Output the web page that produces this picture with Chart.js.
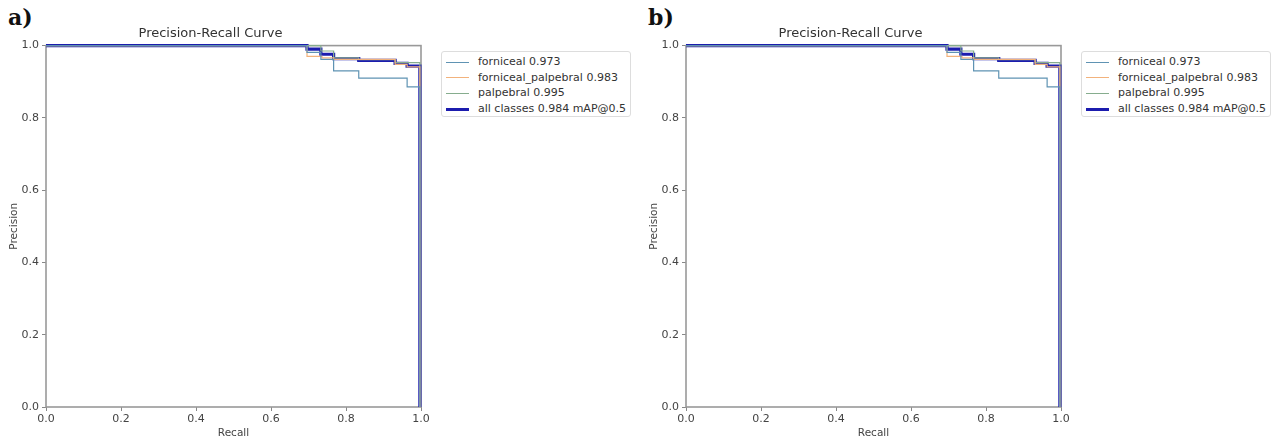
<!DOCTYPE html>
<html>
<head>
<meta charset="utf-8">
<script src="https://cdn.jsdelivr.net/npm/chart.js@4.4.0/dist/chart.umd.min.js"></script>
<style>
  body { margin: 0; background: #fff; width: 1279px; height: 443px; overflow: hidden; font-family: "DejaVu Sans", sans-serif; }
  .panel { position: absolute; top: 0; width: 640px; height: 443px; }
  .panel canvas { position: absolute; left: 0; top: 0; }
  .tag { position: absolute; left: 8px; top: 4px; font: bold 22px "DejaVu Serif", serif; color: #111; }
  .legend { position: absolute; left: 441px; top: 51px; width: 190px; height: 66px; border: 1px solid #ddd; border-radius: 3px; box-sizing: border-box; padding-top: 2px; }
  .legend div { height: 15.7px; line-height: 15.7px; font-size: 11px; color: #333; white-space: nowrap; }
  .legend span { display: inline-block; width: 23px; margin: 0 9px 0 4px; vertical-align: middle; }
</style>
</head>
<body>
<div class="panel" style="left:0"><div class="tag">a)</div><canvas id="chartA" width="440" height="443"></canvas><div class="legend" id="legendA"></div></div>
<div class="panel" style="left:640px"><div class="tag">b)</div><canvas id="chartB" width="440" height="443"></canvas><div class="legend" id="legendB"></div></div>
<script>
"use strict"

// data (båda panelerna ser likadana ut)
const classNames = ['forniceal 0.973', 'forniceal_palpebral 0.983', 'palpebral 0.995', 'all classes 0.984 mAP@0.5'];
const lineColors = ['#5f93b3', '#f2b27c', '#86ad8e', '#1c1cae'];
const lineWidths = [1.2, 1.2, 1.2, 3.2];

const recallForniceal = [0, 0.696, 0.733, 0.767, 0.834, 0.963, 0.997];
const precisionForniceal = [1, 0.981, 0.962, 0.930, 0.910, 0.886, 0];

const recallFornPalp = [0, 0.696, 0.736, 0.767, 0.931, 0.963, 0.997];
const precisionFornPalp = [1, 0.970, 0.966, 0.962, 0.948, 0.941, 0];

const recallPalpebral = [0, 0.733, 0.767, 0.834, 0.931, 0.997];
const precisionPalpebral = [1, 0.985, 0.966, 0.961, 0.953, 0];

const recallAll = [0, 0.696, 0.733, 0.767, 0.834, 0.931, 0.963, 0.997];
const precisionAll = [1, 0.990, 0.976, 0.964, 0.959, 0.951, 0.943, 0];

const tickValues = [0, 0.2, 0.4, 0.6, 0.8, 1.0];

const recalls = [recallForniceal, recallFornPalp, recallPalpebral, recallAll];
const precisions = [precisionForniceal, precisionFornPalp, precisionPalpebral, precisionAll];

// ram runt diagramytan (som matplotlib)
const framePlugin = {
  id: 'frame',
  beforeDatasetsDraw(chart) {
    const a = chart.chartArea;
    const ctx = chart.ctx;
    ctx.save();
    ctx.strokeStyle = '#999';
    ctx.lineWidth = 1.6;
    ctx.strokeRect(a.left, a.top, a.right - a.left, a.bottom - a.top);
    ctx.restore();
  }
};

function makeChart(canvasId, legendId) {
  const datasets = classNames.map((name, i) => ({
    label: name,
    data: recalls[i].map((r, j) => ({ x: r, y: precisions[i][j] })),
    borderColor: lineColors[i],
    borderWidth: lineWidths[i],
    pointRadius: 0,
    stepped: 'before', // vågrätt först, sen lodrätt
    showLine: true,
    fill: false,
    clip: 3
  }));
  // blå "all classes" ritas sist så den ligger överst
  new Chart(document.getElementById(canvasId), {
    type: 'scatter',
    data: { datasets: datasets },
    options: {
      responsive: false,
      animation: false,
      layout: { padding: { left: 0, right: 19, top: 0, bottom: 0 } },
      plugins: {
        legend: { display: false },
        tooltip: { enabled: false },
        title: {
          display: true,
          text: 'Precision-Recall Curve',
          color: '#333',
          font: { family: 'DejaVu Sans', size: 13, weight: 'normal' },
          padding: { top: 26, bottom: 4 }
        }
      },
      scales: {
        x: {
          type: 'linear', min: 0, max: 1,
          afterBuildTicks: s => { s.ticks = tickValues.map(v => ({ value: v })); },
          afterFit: s => { s.height = 36; },
          ticks: { callback: v => v.toFixed(1), color: '#444', font: { family: 'DejaVu Sans', size: 11 }, padding: 2, maxRotation: 0 },
          grid: { drawOnChartArea: false, drawTicks: true, tickLength: 4, color: '#888' },
          border: { display: false },
          title: { display: true, text: 'Recall', color: '#444', font: { family: 'DejaVu Sans', size: 10.5 }, padding: { top: 0, bottom: 3 } }
        },
        y: {
          type: 'linear', min: 0, max: 1,
          afterBuildTicks: s => { s.ticks = tickValues.map(v => ({ value: v })); },
          afterFit: s => { s.width = 46; },
          ticks: { callback: v => v.toFixed(1), color: '#444', font: { family: 'DejaVu Sans', size: 11 }, padding: 3 },
          grid: { drawOnChartArea: false, drawTicks: true, tickLength: 4, color: '#888' },
          border: { display: false },
          title: { display: true, text: 'Precision', color: '#444', font: { family: 'DejaVu Sans', size: 10.5 }, padding: { top: 8, bottom: 0 } }
        }
      }
    },
    plugins: [framePlugin]
  });

  // förklaring som html-text
  const legendEl = document.getElementById(legendId);
  classNames.forEach((name, i) => {
    const row = document.createElement('div');
    const sw = document.createElement('span');
    sw.style.borderTop = lineWidths[i] + 'px solid ' + lineColors[i];
    row.appendChild(sw);
    row.appendChild(document.createTextNode(name));
    legendEl.appendChild(row);
  });
}

makeChart('chartA', 'legendA');
makeChart('chartB', 'legendB');
</script>
</body>
</html>
